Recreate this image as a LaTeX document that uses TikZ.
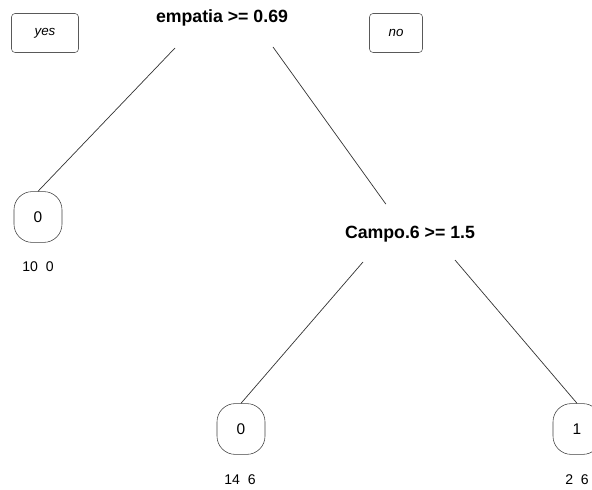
\documentclass[tikz,border=0pt]{standalone}
\usepackage{fontspec}
\setmainfont{Liberation Sans}

\begin{document}
\begin{tikzpicture}[x=0.025cm,y=-0.025cm,
    split/.style={font=\bfseries\fontsize{12.6}{14}\selectfont},
    leaf/.style={draw=black!75,rounded corners=13pt,minimum width=1.2cm,minimum height=1.27cm,font=\fontsize{11}{13}\selectfont},
    side/.style={draw=black!65,rounded corners=2.5pt,minimum height=0.975cm,font=\itshape\fontsize{9.5}{11}\selectfont},
    count/.style={font=\fontsize{10}{12}\selectfont},
    edge/.style={draw=black!80,line width=0.5pt}]
    \useasboundingbox (0,0) rectangle (592,490);
    \node[side,minimum width=1.675cm] (yes) at (45,33) {yes};
    \node[side,minimum width=1.325cm] (no) at (396,33) {no};
    \node[split] (emp) at (222,18) {empatia >= 0.69};
    \node[split] (campo) at (410,234) {Campo.6 >= 1.5};
    \node[leaf] (l0) at (38,217) {0};
    \node[leaf] (m0) at (241,429) {0};
    \node[leaf] (r1) at (577,429) {1};
    \node[count] (l0n) at (38,267) {10\ \ 0};
    \node[count] (m0n) at (240,480) {14\ \ 6};
    \node[count] (r1n) at (577,480) {2\ \ 6};
    \coordinate (el) at (175,48);
    \coordinate (er) at (273,47);
    \coordinate (cl) at (363,262);
    \coordinate (cr) at (455,260);
    \draw[edge] (el) -- (l0.north)
    (cl) -- (m0.north)
    (cr) -- (r1.north);
    \draw[edge,shorten >=0.52cm] (er) -- ([xshift=-0.3cm]campo.north);
  \end{tikzpicture}
\end{document}
